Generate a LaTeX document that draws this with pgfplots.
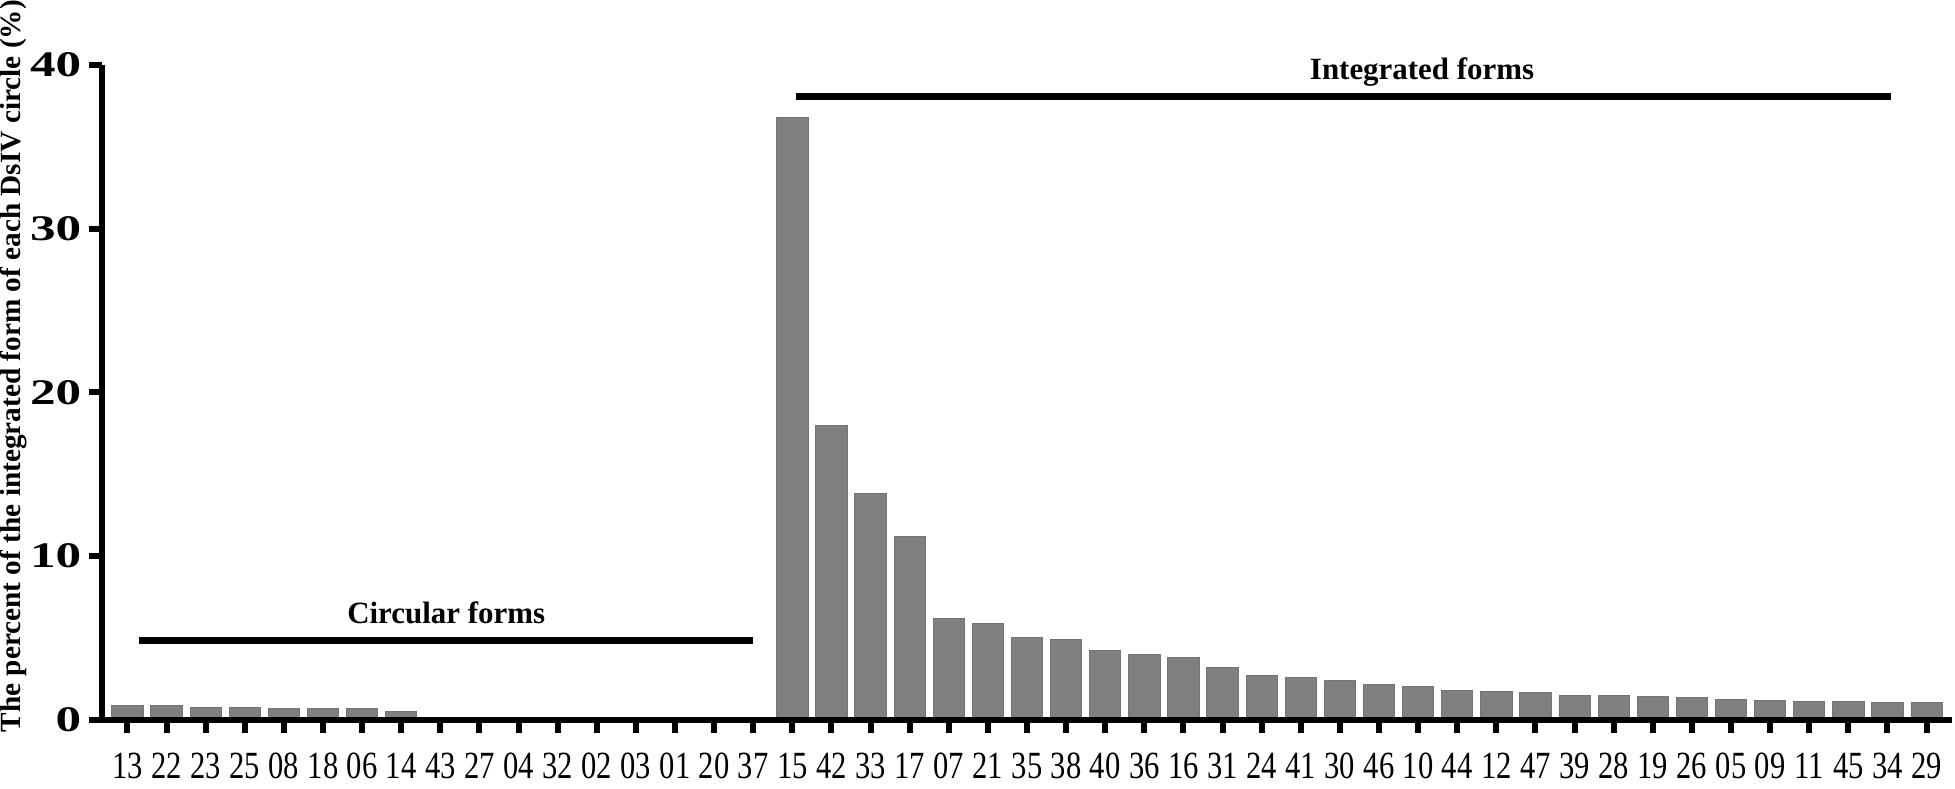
\documentclass[border=0pt]{standalone}
\usepackage{fontspec}
\setmainfont{Liberation Serif}
\usepackage{graphicx}
\usepackage{pgfplots}
\usepackage{pgfplotstable}
\pgfplotsset{compat=1.18}
\newcommand{\X}[1]{\scalebox{0.97}[1.22]{#1}}
\pgfplotstableread{
x y
0 0.85
1 0.85
2 0.75
3 0.71
4 0.68
5 0.68
6 0.68
7 0.47
8 0
9 0
10 0
11 0
12 0
13 0
14 0
15 0
16 0
17 36.8
18 18.0
19 13.8
20 11.2
21 6.15
22 5.85
23 5.0
24 4.9
25 4.2
26 3.95
27 3.8
28 3.2
29 2.7
30 2.6
31 2.38
32 2.12
33 2.0
34 1.78
35 1.7
36 1.65
37 1.45
38 1.45
39 1.4
40 1.33
41 1.22
42 1.18
43 1.08
44 1.08
45 1.02
46 1.02
}\datatable
\begin{document}
\begin{tikzpicture}
\begin{axis}[
  scale only axis,
  width=616pt, height=218pt,
  xmin=-0.64, xmax=46.65,
  ymin=0, ymax=40,
  clip=false,
  axis on top,
  axis x line*=bottom,
  axis y line*=left,
  axis line style={line width=2pt, black},
  tick align=outside,
  major tick length=4.5pt,
  every tick/.style={line width=2pt, black},
  xtick={0,...,46},
  xticklabels={\X{13},\X{22},\X{23},\X{25},\X{08},\X{18},\X{06},\X{14},\X{43},\X{27},\X{04},\X{32},\X{02},\X{03},\X{01},\X{20},\X{37},\X{15},\X{42},\X{33},\X{17},\X{07},\X{21},\X{35},\X{38},\X{40},\X{36},\X{16},\X{31},\X{24},\X{41},\X{30},\X{46},\X{10},\X{44},\X{12},\X{47},\X{39},\X{28},\X{19},\X{26},\X{05},\X{09},\X{11},\X{45},\X{34},\X{29}},
  ytick={0,10,20,30,40},
  yticklabel={\scalebox{1.42}[1]{\pgfmathprintnumber{\tick}}},
  /pgf/number format/assume math mode=true,
  xticklabel style={font=\fontsize{10.5}{12}\selectfont, yshift=-3pt},
  yticklabel style={font=\fontsize{12}{14}\selectfont\bfseries, xshift=1pt},
  every axis y label/.style={at={([xshift=-24.9pt]rel axis cs:0,0.54)}, rotate=90, anchor=south, inner sep=0pt},
  ylabel={\fontsize{9.75}{11}\selectfont\bfseries The percent of the integrated form of each DsIV circle (\%)},
]
\addplot[ybar, bar width=0.8, fill=gray, draw=gray!90!black, line width=0.3pt] table[x=x, y=y] {\datatable};
\addplot[black, line width=2.3pt, no marks] coordinates {(0.3,4.85) (16.0,4.85)};
\addplot[black, line width=2.3pt, no marks] coordinates {(17.1,38.1) (45.1,38.1)};
\node[font=\fontsize{10.3}{12}\selectfont\bfseries] at (axis cs:8.15,6.5) {Circular forms};
\node[font=\fontsize{10.3}{12}\selectfont\bfseries] at (axis cs:33.1,39.55) {Integrated forms};
\end{axis}
\end{tikzpicture}
\end{document}
